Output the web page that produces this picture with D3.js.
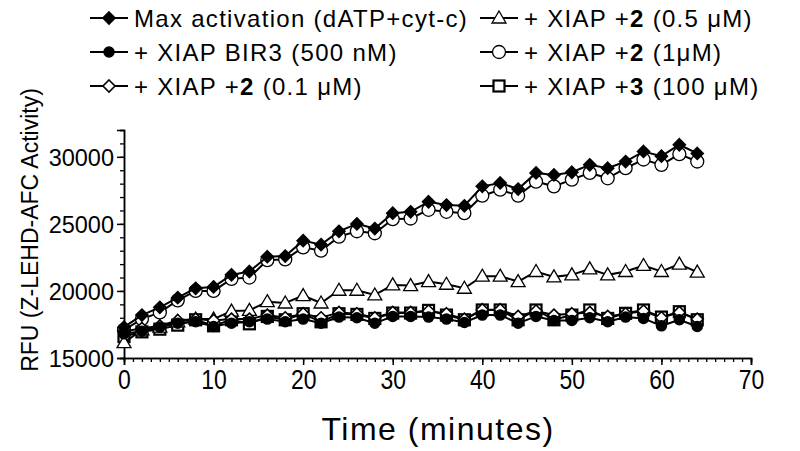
<!DOCTYPE html>
<html><head><meta charset="utf-8">
<script src="https://cdn.jsdelivr.net/npm/d3@7"></script>
<style>
body{margin:0;background:#fff;}
svg{display:block;font-family:Arial,"Liberation Sans",Helvetica,sans-serif;}
</style></head>
<body><svg id="chart" width="800" height="451"></svg>
<script>
const times = d3.range(0, 65, 2);
const maxActivation = [17300,18200,18780,19500,20200,20300,21200,21450,22550,22600,23750,23450,24450,25000,24650,25800,25900,26650,26400,26350,27800,28050,27600,28800,28650,28850,29400,29150,29650,30400,30050,30900,30250];
const xiapBir3 = [16800,17000,17300,17600,17700,17350,17600,17700,17900,17700,17900,17600,18050,18000,17600,18100,18100,18050,17900,17650,18200,18200,17600,18100,17800,17800,18000,17700,18050,17950,17400,17850,17350];
const cmp2_01 = [17000,17200,17400,17800,17900,17800,17900,17900,18200,18000,18300,18000,18400,18300,18000,18400,18400,18500,18300,17900,18600,18600,18100,18500,18200,18300,18400,18100,18300,18500,18000,18400,17900];
const cmp2_05 = [16150,17100,17300,17700,17900,17900,18500,18550,19200,19100,19650,19100,20050,20050,19700,20450,20400,20700,20500,20200,21100,21100,20700,21450,21050,21200,21650,21200,21450,21900,21450,22000,21400];
const cmp2_1 = [17100,17900,18400,19300,20000,20000,20900,21000,22300,22350,23250,23000,24050,24450,24300,25350,25400,26050,25900,25800,27100,27550,27100,28150,27800,28300,28800,28400,29150,29800,29400,30200,29650];
const cmp3_100 = [16600,16950,17150,17450,17850,17400,17850,17550,18100,17850,18300,17700,18300,18250,17950,18350,18350,18550,18200,17850,18580,18580,17850,18580,17850,18200,18580,17950,18330,18580,18050,18450,17850];
const yTicks = [15000,20000,25000,30000];
const xTicks = [0,10,20,30,40,50,60,70];

const svg = d3.select("#chart");
const x = d3.scaleLinear().domain([0,70]).range([124,751]);
const y = d3.scaleLinear().domain([15000,32000]).range([358,130]);

// axes
const gy = svg.append("g").attr("transform","translate(124,0)");
gy.call(d3.axisLeft(y).tickValues(d3.range(15000,32001,1000)).tickSize(4).tickFormat(""));
gy.selectAll(".tick line").attr("stroke","#000").attr("stroke-width",1.3);
const gy2 = svg.append("g").attr("transform","translate(124,0)");
gy2.call(d3.axisLeft(y).tickValues(yTicks).tickSize(7).tickPadding(3).tickFormat(d3.format("d")));
gy2.selectAll("text").attr("font-size",23.5).attr("fill","#000").attr("dy","0.36em");
gy2.selectAll(".tick line").attr("stroke-width",1.5);

const gx = svg.append("g").attr("transform","translate(0,358)");
gx.call(d3.axisBottom(x).tickValues(d3.range(0,71,1)).tickSize(4).tickFormat(""));
gx.selectAll(".tick line").attr("stroke-width",1.3);
const gx2 = svg.append("g").attr("transform","translate(0,358)");
gx2.call(d3.axisBottom(x).tickValues(xTicks).tickSize(7).tickPadding(4).tickFormat(d3.format("d")));
gx2.selectAll(".tick line").attr("stroke-width",1.5);
gx2.selectAll("text").attr("font-size",28).attr("fill","#000")
  .attr("style","transform:scaleX(0.82);transform-box:fill-box;transform-origin:center;");
svg.selectAll(".domain").attr("stroke","#000").attr("stroke-width",1.5);

// axis titles
svg.append("text").attr("transform","translate(38,230) rotate(-90)")
  .attr("text-anchor","middle").attr("font-size",23).attr("fill","#000")
  .text("RFU (Z-LEHD-AFC Activity)");
svg.append("text").attr("x",438).attr("y",440).attr("text-anchor","middle")
  .attr("font-size",32).attr("letter-spacing","1.5px").attr("fill","#000")
  .text("Time (minutes)");

// marker drawing
function marker(g, type, cx, cy){
  if(type==="diamondFilled"||type==="diamondOpen"){
    g.append("path").attr("d",`M${cx},${cy-6}L${cx+6},${cy}L${cx},${cy+6}L${cx-6},${cy}Z`)
     .attr("fill",type==="diamondFilled"?"#000":"#fff").attr("stroke","#000").attr("stroke-width",1.6);
  } else if(type==="circleFilled"){
    g.append("circle").attr("cx",cx).attr("cy",cy).attr("r",5).attr("fill","#000").attr("stroke","#000").attr("stroke-width",1.5);
  } else if(type==="circleOpen"){
    g.append("circle").attr("cx",cx).attr("cy",cy).attr("r",6.5).attr("fill","#fff").attr("stroke","#000").attr("stroke-width",1.3);
  } else if(type==="triangle"){
    g.append("path").attr("d",`M${cx},${cy-7}L${cx+7},${cy+5}L${cx-7},${cy+5}Z`)
     .attr("fill","#fff").attr("stroke","#000").attr("stroke-width",1.3);
  } else if(type==="square"){
    g.append("rect").attr("x",cx-5.5).attr("y",cy-5.5).attr("width",11).attr("height",11)
     .attr("fill","#fff").attr("stroke","#000").attr("stroke-width",2.2);
  }
}

const series = [
  {name:"sq", vals:cmp3_100, type:"square"},
  {name:"c1", vals:cmp2_1, type:"circleOpen"},
  {name:"tri", vals:cmp2_05, type:"triangle"},
  {name:"od", vals:cmp2_01, type:"diamondOpen"},
  {name:"bir", vals:xiapBir3, type:"circleFilled"},
  {name:"max", vals:maxActivation, type:"diamondFilled"}
];
const line = d3.line().x(d=>x(d[0])).y(d=>y(d[1]));
series.forEach(s=>{
  const g = svg.append("g");
  const pts = times.map((t,i)=>[t,s.vals[i]]);
  g.append("path").attr("d",line(pts)).attr("fill","none").attr("stroke","#000").attr("stroke-width",2);
  pts.forEach(p=>marker(g,s.type,x(p[0]),y(p[1])));
});

// legend
const legendItems = [
  {col:0,row:0,type:"diamondFilled",parts:[["Max activation (dATP+cyt-c)",false]]},
  {col:0,row:1,type:"circleFilled",parts:[["+ XIAP BIR3 (500 nM)",false]]},
  {col:0,row:2,type:"diamondOpen",parts:[["+ XIAP +",false],["2",true],[" (0.1 μM)",false]]},
  {col:1,row:0,type:"triangle",parts:[["+ XIAP +",false],["2",true],[" (0.5 μM)",false]]},
  {col:1,row:1,type:"circleOpen",parts:[["+ XIAP +",false],["2",true],[" (1μM)",false]]},
  {col:1,row:2,type:"square",parts:[["+ XIAP +",false],["3",true],[" (100 μM)",false]]}
];
const colX = [90, 480];
const rowY = [18, 52, 86];
legendItems.forEach(it=>{
  const g = svg.append("g");
  const lx = colX[it.col], ly = rowY[it.row];
  g.append("line").attr("x1",lx).attr("x2",lx+38).attr("y1",ly).attr("y2",ly).attr("stroke","#000").attr("stroke-width",2);
  marker(g,it.type,lx+19,ly);
  const t = g.append("text").attr("x",lx+44).attr("y",ly+8.5).attr("font-size",24)
    .attr("letter-spacing","1.3px").attr("fill","#000");
  it.parts.forEach(p=>t.append("tspan").attr("font-weight",p[1]?"bold":"normal").text(p[0]));
});
</script></body></html>
